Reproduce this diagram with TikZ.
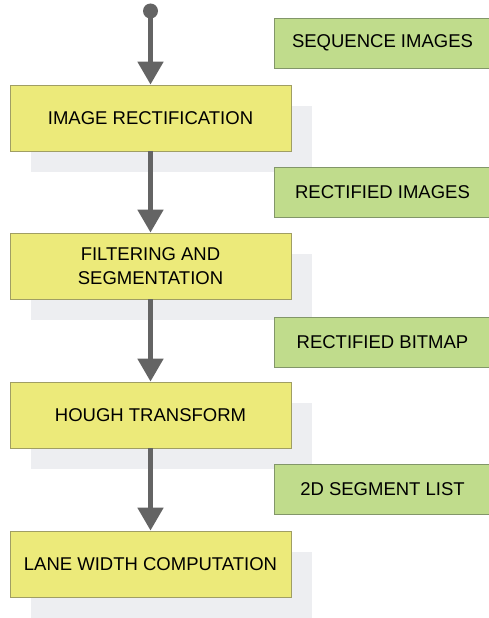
\documentclass[tikz,border=0pt]{standalone}
\usepackage{fontspec}
\setmainfont{Liberation Sans}
\usetikzlibrary{arrows.meta,shadows}
\definecolor{stepfill}{RGB}{236,234,122}
\definecolor{stepline}{RGB}{160,158,100}
\definecolor{datafill}{RGB}{192,220,140}
\definecolor{dataline}{RGB}{130,150,105}
\definecolor{shadowgray}{RGB}{237,238,241}
\definecolor{flowgray}{RGB}{100,100,100}
\tikzset{
  stepbox/.style={draw=stepline, line width=0.8pt, fill=stepfill,
    minimum width=281pt, minimum height=66pt, inner sep=0pt, align=center,
    general shadow={fill=shadowgray, shadow xshift=21pt, shadow yshift=-21pt}},
  databox/.style={draw=dataline, line width=0.8pt, fill=datafill,
    minimum width=217pt, minimum height=50pt, inner sep=0pt, align=center},
  flow/.style={draw=flowgray, line width=5pt,
    -{Triangle[width=25pt,length=23pt]}},
  every node/.style={font=\fontsize{18.5}{24}\selectfont}
}
\begin{document}
\begin{tikzpicture}[x=1pt,y=-1pt]
  \useasboundingbox (0,0) rectangle (489,618);
  % processing steps
  \node[stepbox] (rect) at (150.5,118) {IMAGE RECTIFICATION};
  \node[stepbox] (filt) at (150.5,266) {FILTERING AND\\SEGMENTATION};
  \node[stepbox] (hough) at (150.5,415) {HOUGH TRANSFORM};
  \node[stepbox] (lane) at (150.5,564) {LANE WIDTH COMPUTATION};
  % data produced between steps
  \node[databox] (seq) at (382.5,43) {SEQUENCE IMAGES};
  \node[databox] (rimg) at (382.5,192) {RECTIFIED IMAGES};
  \node[databox] (rbit) at (382.5,342) {RECTIFIED BITMAP};
  \node[databox] (seg) at (382.5,489) {2D SEGMENT LIST};
  % start point and flow arrows
  \node[circle, fill=flowgray, inner sep=0pt, minimum size=15pt] (start) at (150.5,11) {};
  \draw[flow] (start.center) -- (rect.north);
  \draw[flow] (rect.south) -- (filt.north);
  \draw[flow] (filt.south) -- (hough.north);
  \draw[flow] (hough.south) -- (lane.north);
\end{tikzpicture}
\end{document}
